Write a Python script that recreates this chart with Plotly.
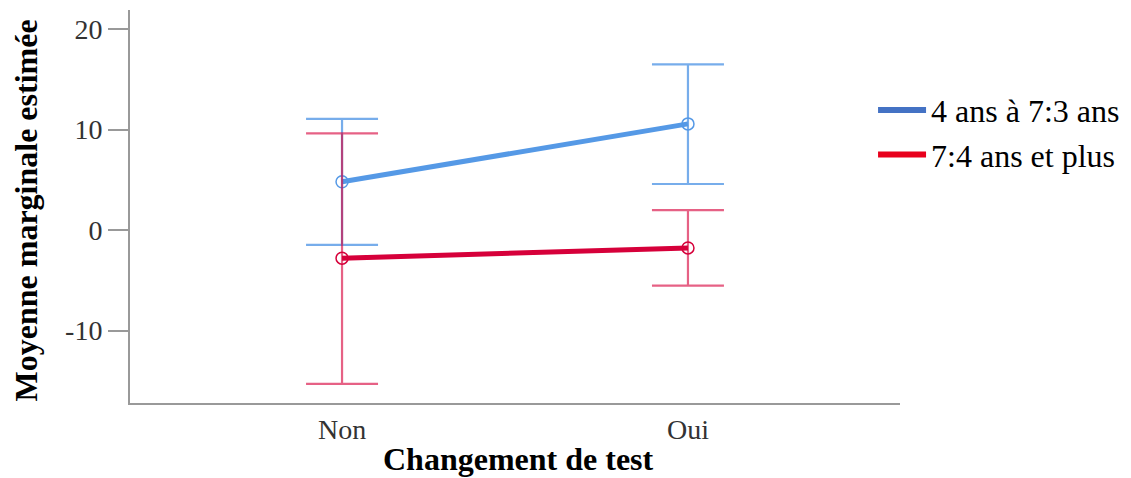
import plotly.graph_objects as go

categories = ["Non", "Oui"]
series_names = ["4 ans à 7:3 ans", "7:4 ans et plus"]
means_young = [4.82, 10.57]
upper_young = [11.07, 16.5]
lower_young = [-1.47, 4.59]
means_old = [-2.79, -1.77]
upper_old = [9.63, 1.99]
lower_old = [-15.29, -5.52]
y_ticks = [-10, 0, 10, 20]
y_tick_labels = ["-10", "0", "10", "20"]
x_title = "Changement de test"
y_title = "Moyenne marginale estimée"

x_pos = list(range(len(categories)))

line_colors = ["#5599E6", "#D6003A"]
err_colors = ["rgba(85,153,230,0.8)", "rgba(214,0,58,0.62)"]
legend_colors = ["#4472C4", "#E8001C"]

fig = go.Figure()

for name, m, up, lo, lc, ec in [
    (series_names[0], means_young, upper_young, lower_young, line_colors[0], err_colors[0]),
    (series_names[1], means_old, upper_old, lower_old, line_colors[1], err_colors[1]),
]:
    fig.add_trace(go.Scatter(
        x=x_pos, y=m, mode="lines+markers", showlegend=False,
        line=dict(color=lc, width=5),
        marker=dict(symbol="circle-open", size=12, color=lc, line=dict(width=1.5)),
        error_y=dict(type="data", symmetric=False,
                     array=[u - v for u, v in zip(up, m)],
                     arrayminus=[v - l for v, l in zip(m, lo)],
                     color=ec, thickness=2.2, width=36),
    ))

for name, col in zip(series_names, legend_colors):
    fig.add_trace(go.Scatter(x=[None], y=[None], mode="lines", name=name,
                             line=dict(color=col, width=6)))

serif = "Liberation Serif, Times New Roman, serif"

# page body has an 8px default margin: figure is sized/offset to compensate
fig.update_layout(
    width=1123, height=470,
    margin=dict(l=122, r=231, t=2, b=75, autoexpand=False),
    paper_bgcolor="white", plot_bgcolor="white",
    font=dict(family=serif, color="black"),
    legend=dict(x=0.965, y=0.815, xanchor="left", yanchor="top",
                font=dict(size=32, family=serif, color="black"),
                tracegroupgap=0, itemwidth=48, bgcolor="rgba(0,0,0,0)"),
    xaxis=dict(range=[-0.613, 1.613], tickmode="array", tickvals=x_pos, ticktext=categories,
               showgrid=False, zeroline=False, showline=True, linecolor="#999999", linewidth=2,
               ticks="", automargin=False,
               tickfont=dict(size=28, color="#333333", family=serif)),
    yaxis=dict(range=[-17.2, 21.9], tickmode="array", tickvals=y_ticks, ticktext=y_tick_labels,
               showgrid=False, zeroline=False, showline=True, linecolor="#999999", linewidth=2,
               ticks="outside", ticklen=20, tickcolor="#999999", tickwidth=2, automargin=False,
               tickfont=dict(size=28, color="#333333", family=serif)),
    annotations=[
        dict(text="<b>%s</b>" % x_title, xref="paper", yref="paper", x=0.505, y=-0.143,
             xanchor="center", yanchor="middle", showarrow=False,
             font=dict(size=32, family=serif, color="black")),
        dict(text="<b>%s</b>" % y_title, xref="paper", yref="paper", x=-0.135, y=0.49,
             xanchor="center", yanchor="middle", textangle=-90, showarrow=False,
             font=dict(size=32, family=serif, color="black")),
    ],
)

fig.write_html("out.html")
